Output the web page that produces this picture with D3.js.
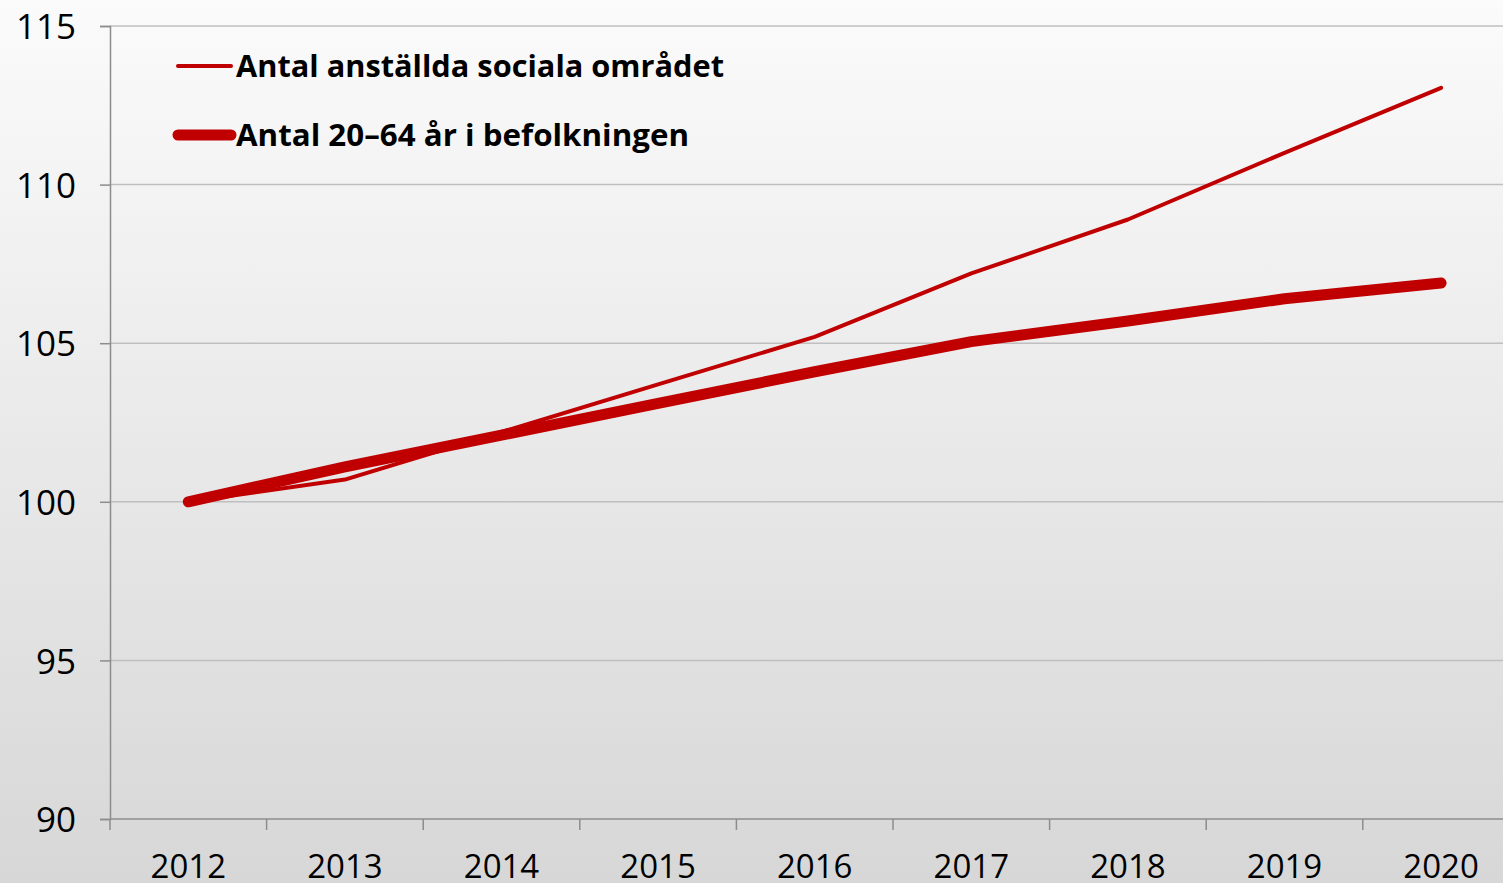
<!DOCTYPE html>
<html>
<head>
<meta charset="utf-8">
<script src="https://cdn.jsdelivr.net/npm/d3@7"></script>
<style>
  html, body { margin: 0; padding: 0; overflow: hidden; }
  svg { display: block; }
</style>
</head>
<body>
<svg id="chart" width="1503" height="883"></svg>
<script>
const years = ["2012", "2013", "2014", "2015", "2016", "2017", "2018", "2019", "2020"];
const anstallda = [100, 100.7, 102.2, 103.7, 105.2, 107.2, 108.9, 111.0, 113.05];
const befolkning = [100, 101.1, 102.1, 103.1, 104.1, 105.05, 105.7, 106.4, 106.9];
const yTicks = [90, 95, 100, 105, 110, 115];
const seriesNames = ["Antal anställda sociala området", "Antal 20–64 år i befolkningen"];

const svg = d3.select("#chart");
const W = 1503, H = 883;
const M = { top: 26, left: 110, bottom: 64 };
const RED = "#c00000";
const FONT = "'Open Sans', 'Noto Sans', sans-serif";

const defs = svg.append("defs");
const grad = defs.append("linearGradient")
  .attr("id", "bg").attr("x1", 0).attr("y1", 0).attr("x2", 0).attr("y2", 1);
grad.append("stop").attr("offset", "0%").attr("stop-color", "#fbfbfb");
grad.append("stop").attr("offset", "100%").attr("stop-color", "#d7d7d7");

svg.append("rect").attr("width", W).attr("height", H).attr("fill", "url(#bg)");

const x = d3.scaleBand()
  .domain(years)
  .range([M.left, M.left + 156.6 * years.length]);

const y = d3.scaleLinear()
  .domain([90, 115])
  .range([H - M.bottom, M.top]);

// gridlines
svg.append("g").selectAll("line")
  .data(yTicks.filter(d => d > 90))
  .join("line")
  .attr("x1", M.left).attr("x2", W)
  .attr("y1", d => y(d)).attr("y2", d => y(d))
  .attr("stroke", "#bfbfbf").attr("stroke-width", 1.5);

// y axis
const yAxis = svg.append("g")
  .attr("transform", `translate(${M.left},0)`)
  .call(d3.axisLeft(y).tickValues(yTicks).tickSize(10).tickPadding(24));
yAxis.select(".domain").attr("stroke", "#8c8c8c").attr("stroke-width", 1.5);
yAxis.selectAll(".tick line").attr("stroke", "#8c8c8c").attr("stroke-width", 1.5);
yAxis.selectAll(".tick text")
  .attr("fill", "#000")
  .style("font-family", FONT)
  .style("font-size", "35px")
  .attr("dy", "0.36em");

// x axis
const xAxis = svg.append("g")
  .attr("transform", `translate(0,${y(90)})`)
  .call(d3.axisBottom(x).tickSize(0).tickPadding(36));
xAxis.select(".domain").attr("stroke", "#8c8c8c").attr("stroke-width", 1.5)
  .attr("d", `M${M.left},0H${W}`);
xAxis.selectAll(".tick text")
  .attr("fill", "#000")
  .style("font-family", FONT)
  .style("font-size", "33px")
  .attr("dy", "0.71em");

// category boundary ticks
svg.append("g").selectAll("line")
  .data(years)
  .join("line")
  .attr("x1", d => x(d)).attr("x2", d => x(d))
  .attr("y1", y(90)).attr("y2", y(90) + 11)
  .attr("stroke", "#8c8c8c").attr("stroke-width", 1.5);

const line = d3.line()
  .x((d, i) => x(years[i]) + x.bandwidth() / 2)
  .y(d => y(d));

svg.append("path").datum(befolkning)
  .attr("fill", "none").attr("stroke", RED).attr("stroke-width", 11)
  .attr("stroke-linecap", "round").attr("stroke-linejoin", "round")
  .attr("d", line);

svg.append("path").datum(anstallda)
  .attr("fill", "none").attr("stroke", RED).attr("stroke-width", 4)
  .attr("stroke-linecap", "round").attr("stroke-linejoin", "round")
  .attr("d", line);

// legend
const legend = svg.append("g");
const legendRows = [
  { name: seriesNames[0], w: 4, y: 66, width: 488 },
  { name: seriesNames[1], w: 11, y: 135, width: 453 }
];
legendRows.forEach(r => {
  legend.append("line")
    .attr("x1", 178).attr("x2", 231)
    .attr("y1", r.y).attr("y2", r.y)
    .attr("stroke", RED).attr("stroke-width", r.w)
    .attr("stroke-linecap", "round");
  legend.append("text")
    .attr("x", 236).attr("y", r.y)
    .attr("dy", "0.35em")
    .style("font-family", FONT)
    .style("font-weight", "bold")
    .style("font-size", "31px")
    .attr("fill", "#000")
    .attr("textLength", r.width)
    .attr("lengthAdjust", "spacingAndGlyphs")
    .text(r.name);
});
</script>
</body>
</html>
